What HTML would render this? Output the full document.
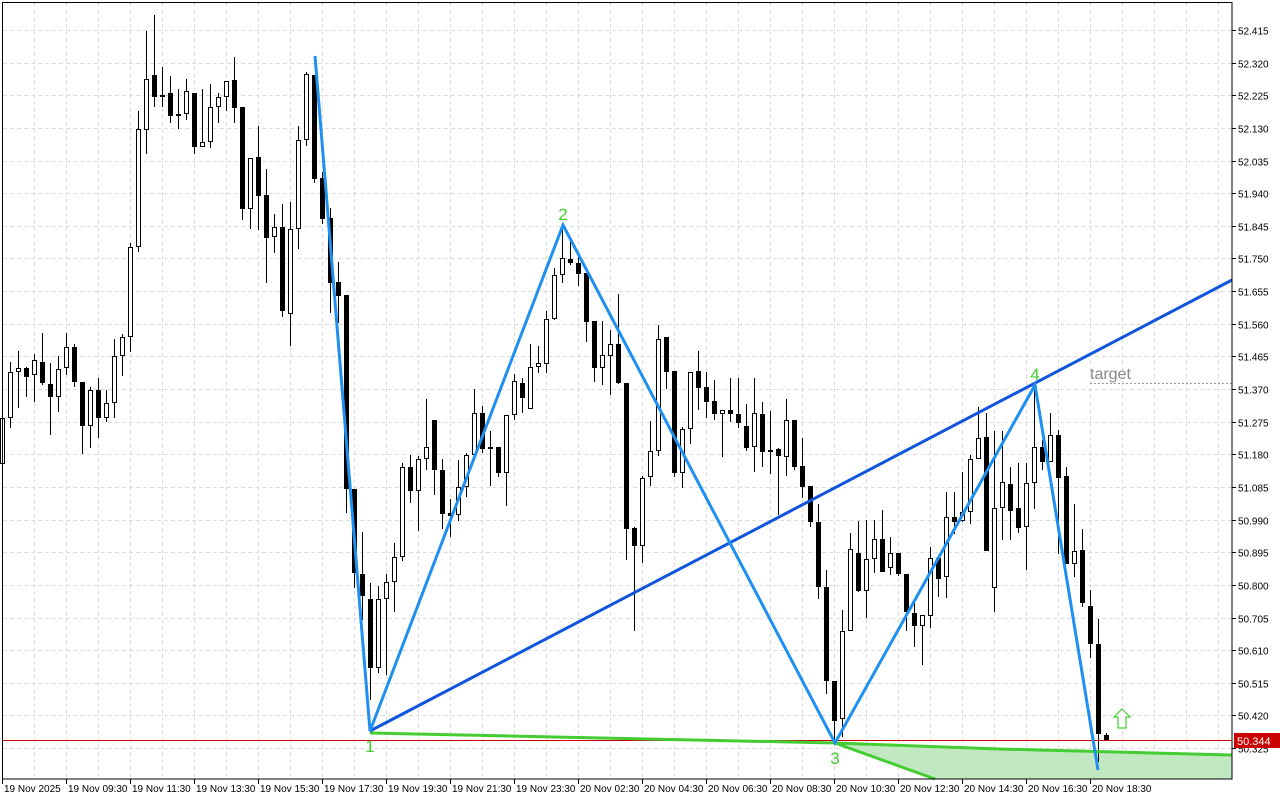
<!DOCTYPE html>
<html><head><meta charset="utf-8"><style>
html,body{margin:0;padding:0;background:#fff;}
svg{display:block;font-family:"Liberation Sans",sans-serif;}
</style></head><body>
<svg id="c" width="1280" height="800" xmlns="http://www.w3.org/2000/svg">
<rect width="1280" height="800" fill="#fff"/>
<g id="grid" stroke="#dcdcdc" stroke-width="1" stroke-dasharray="4,3"></g>
<polygon points="835,743 935,779 1232,779 1232,755 1100,751 1000,749 835,743" fill="#c2e8c2"/>
<g id="candles"></g>
<line x1="2" y1="740.5" x2="1232" y2="740.5" stroke="#cc0000" stroke-width="1"/>
<polyline points="370,733 835,743 1000,749 1232,755" fill="none" stroke="#44cc33" stroke-width="3"/>
<line x1="835" y1="743" x2="935" y2="779" stroke="#44cc33" stroke-width="3"/>
<line x1="370" y1="731" x2="1232" y2="280" stroke="#1155dd" stroke-width="3"/>
<polyline points="315,56 370,731 563,225 835,743 1035,385 1098,770" fill="none" stroke="#2090f0" stroke-width="3"/>
<line x1="1090" y1="383.5" x2="1232" y2="383.5" stroke="#999" stroke-width="1" stroke-dasharray="2,2"/>
<text x="1090" y="379" font-size="16" fill="#888">target</text>
<g font-size="17" fill="#44cc33" text-anchor="middle">
<text x="370" y="752">1</text><text x="563" y="220">2</text><text x="835" y="764">3</text><text x="1035" y="380">4</text>
</g>
<path d="M1122,709 L1130,717 L1126,717 L1126,728 L1118,728 L1118,717 L1114,717 Z" fill="#fff" stroke="#44cc33" stroke-width="1.2"/>
<rect x="2.5" y="2.5" width="1229.5" height="776.5" fill="none" stroke="#000" stroke-width="1"/>
<g id="axis" font-size="10" fill="#000"></g>
<rect x="1234" y="733" width="46" height="15" fill="#cc0000"/>
<text x="1237" y="745" font-size="11" fill="#fff">50.344</text>
</svg>
<script>
(function(){
var NS="http://www.w3.org/2000/svg";
function el(p,t,a,txt){var e=document.createElementNS(NS,t);for(var k in a)e.setAttribute(k,a[k]);if(txt!=null)e.textContent=txt;p.appendChild(e);return e;}
var grid=document.getElementById('grid'),axis=document.getElementById('axis');
for(var i=0;i<23;i++){var y=Math.round(30+i*32.64)+0.5;
 el(grid,'line',{x1:3,y1:y,x2:1232,y2:y});
 el(axis,'line',{x1:1232,y1:y,x2:1236,y2:y,stroke:'#000'});
 var v=(52.415-i*0.095).toFixed(3);
 el(axis,'text',{x:1238,y:y+4},v);}
for(var x=34;x<1232;x+=32){el(grid,'line',{x1:x+0.5,y1:3,x2:x+0.5,y2:779});}
var tl=["19 Nov 2025","19 Nov 09:30","19 Nov 11:30","19 Nov 13:30","19 Nov 15:30","19 Nov 17:30","19 Nov 19:30","19 Nov 21:30","19 Nov 23:30","20 Nov 02:30","20 Nov 04:30","20 Nov 06:30","20 Nov 08:30","20 Nov 10:30","20 Nov 12:30","20 Nov 14:30","20 Nov 16:30","20 Nov 18:30"];
for(var i=0;i<tl.length;i++){var x=2+64*i;el(axis,'line',{x1:x+0.5,y1:779,x2:x+0.5,y2:784,stroke:'#000'});el(axis,'text',{x:x+2,y:792},tl[i]);}
var D=[[464,418,412,464],[418,372,362,428],[372,368,351,408],[368,377,367,397],[375,360,354,402],[362,383,333,385],[384,397,363,435],[397,369,356,412],[368,347,333,375],[347,382,344,387],
[382,426,382,454],[426,390,387,448],[390,418,378,438],[418,403,390,422],[403,356,339,418],[356,337,334,376],[337,247,243,352],[247,129,111,252],[130,79,31,154],[75,97,15,107],
[95,95,67,107],[93,116,76,123],[114,114,89,129],[114,91,79,120],[93,147,93,154],[147,142,89,147],[142,107,84,148],[107,97,93,123],[97,81,81,111],[80,108,57,123],
[107,209,107,220],[209,158,158,229],[157,196,126,230],[195,238,169,283],[237,227,214,253],[227,311,204,317],[314,229,202,346],[229,140,126,249],[140,74,72,146],[75,179,75,183],
[178,219,172,224],[218,283,208,313],[282,296,262,323],[295,489,295,513],[489,573,489,588],[574,596,532,620],[599,668,583,700],[668,599,586,673],[599,582,574,675],[582,557,543,612],
[557,467,463,561],[467,491,455,503],[491,459,456,531],[459,447,399,470],[420,470,420,495],[470,514,459,529],[513,516,499,537],[515,487,460,521],[487,455,453,497],[455,413,389,459],
[413,449,406,453],[449,447,431,486],[447,473,447,477],[473,415,415,506],[415,381,374,420],[383,398,378,413],[409,367,344,409],[367,363,346,373],[364,319,311,373],[319,275,268,320],
[275,258,228,283],[259,263,240,265],[263,274,252,286],[273,322,273,342],[321,368,321,382],[368,355,321,385],[356,344,330,395],[344,383,294,384],[383,529,383,560],[528,546,527,631],
[546,478,476,563],[477,451,421,486],[451,339,325,456],[337,372,337,389],[371,473,371,477],[473,429,427,488],[429,372,372,444],[371,388,351,410],[387,402,372,418],[401,414,380,420],
[414,410,410,457],[410,414,378,422],[414,423,378,428],[426,448,404,451],[447,413,378,472],[414,452,402,467],[450,451,411,474],[449,456,448,515],[457,420,399,476],[420,467,420,470],
[466,487,438,498],[486,522,486,527],[522,587,504,599],[587,681,570,694],[681,721,681,743],[719,631,610,737],[631,549,533,631],[553,591,521,592],[591,559,520,618],[559,539,520,573],
[539,572,510,572],[568,553,537,575],[553,574,553,576],[574,612,574,631],[613,626,600,647],[626,615,615,665],[616,558,547,628],[558,579,558,597],[577,517,492,598],[517,522,492,534],
[521,512,472,522],[512,459,455,524],[459,438,407,459],[437,551,413,551],[588,508,431,612],[508,482,431,540],[484,511,467,540],[508,528,463,533],[527,483,463,570],[483,447,387,509],
[447,462,440,470],[462,435,413,462],[435,478,430,554],[476,564,467,564],[564,551,504,577],[550,603,529,607],[606,644,590,658],[644,734,619,762],[735,740,733,741]];
var g=document.getElementById('candles');
for(var i=0;i<D.length;i++){var d=D[i],x=2+8*i,o=d[0],c=d[1],h=Math.min(d[2],o,c),l=Math.max(d[3],o,c);
 var tp=Math.min(o,c),bt=Math.max(o,c);var bull=c<o;
 el(g,'line',{x1:x+0.5,y1:h,x2:x+0.5,y2:l,stroke:'#000','stroke-width':1});
 if(bt-tp<2){el(g,'rect',{x:x-2,y:tp,width:5,height:2,fill:'#000'});continue;}
 if(bull) el(g,'rect',{x:x-1.5,y:tp+0.5,width:4,height:bt-tp-1,fill:'#fff',stroke:'#000','stroke-width':1});
 else el(g,'rect',{x:x-2,y:tp,width:5,height:bt-tp,fill:'#000'});}
})();
</script>
</body></html>
